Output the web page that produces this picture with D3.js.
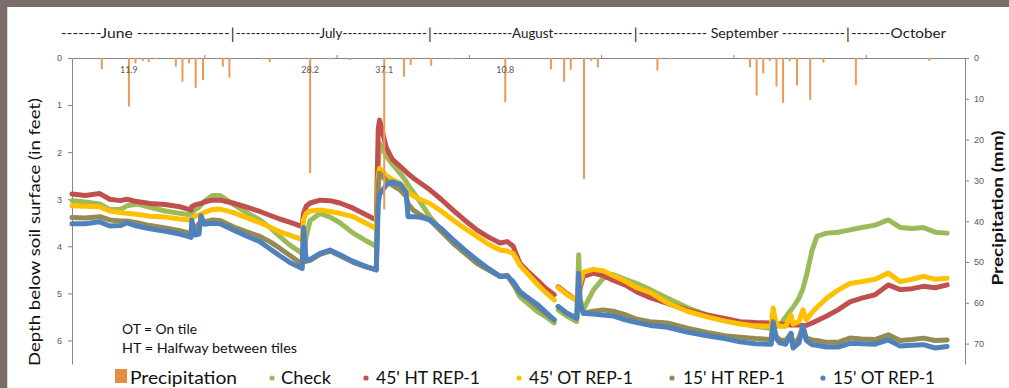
<!DOCTYPE html>
<html>
<head>
<meta charset="utf-8">
<script src="https://cdn.jsdelivr.net/npm/d3@7"></script>
<style>
  body { margin: 0; background: #fff; }
  svg { display: block; font-family: Lato, "Open Sans", sans-serif; }
</style>
</head>
<body>
<svg id="chart"></svg>
<script>
// Days since start of record (early June), one row per reading
const days = [0, 2, 4.2, 5.7, 7.3, 8.3, 9.8, 11.8, 14.1, 16.3, 17.8, 18, 18.1, 18.6, 19.2, 19.5, 20, 21.2, 22.4, 24.3,
  26.2, 28.4, 29.9, 31.4, 33, 34.8, 35, 35.4, 36, 37.5, 39, 40.5, 42.5, 44.3, 46, 46.3, 46.5, 47.5, 48.4, 49.6,
  50.5, 50.8, 51.6, 52.6, 54.1, 55.8, 57.6, 59.4, 61.2, 62.9, 64.7, 65.8, 66.7, 67.7, 68.8, 70.3, 71.5, 72.9, 73.1, 73.5,
  74.8, 76.3, 76.6, 76.8, 77.3, 78.8, 80.3, 81.8, 83.6, 85.4, 87.4, 90, 93, 96, 98.7, 101, 103.3, 105.7, 106, 106.4,
  107, 107.9, 108.7, 109, 109.9, 110.5, 111, 111.9, 112.6, 114.1, 115.8, 117.6, 119.4, 121.4, 123.4, 125.2, 127, 128.7, 130.5, 132.3];

// depth below soil surface (feet); null = no reading
const check = [3.03, 3.06, 3.10, 3.22, 3.22, 3.14, 3.10, 3.17, 3.25, 3.30, 3.33, 3.33, 3.30, 3.22, 3.17, 3.12, 3.05, 2.92, 2.92, 3.10,
  3.27, 3.44, 3.60, 3.79, 3.98, 4.15, 4.18, 3.80, 3.45, 3.30, 3.38, 3.50, 3.72, 3.87, 4.00, 2.30, 1.81, 2.08, 2.25, 2.45,
  2.62, 2.70, 2.85, 3.05, 3.37, 3.65, 3.93, 4.12, 4.29, 4.47, 4.64, 4.62, 4.80, 5.07, 5.20, 5.38, 5.48, 5.63, null, 5.35,
  5.48, 5.60, 4.18, 5.10, 5.35, 4.93, 4.68, 4.60, 4.70, 4.79, 4.92, 5.10, 5.30, 5.46, 5.56, 5.63, 5.70, 5.74, 5.70, 5.70,
  5.68, 5.50, 5.35, 5.30, 5.10, 4.90, 4.64, 4.08, 3.79, 3.72, 3.70, 3.65, 3.60, 3.55, 3.44, 3.60, 3.62, 3.60, 3.70, 3.72];

const ht45 = [2.89, 2.92, 2.88, 3.00, 3.03, 3.00, 3.05, 3.09, 3.11, 3.16, 3.22, 3.23, 3.16, 3.12, 3.10, 3.09, 3.06, 3.02, 3.02, 3.08,
  3.16, 3.26, 3.34, 3.42, 3.49, 3.58, 3.30, 3.15, 3.08, 3.02, 3.03, 3.08, 3.19, 3.32, 3.44, 1.50, 1.32, 1.90, 2.15, 2.30,
  2.42, 2.46, 2.55, 2.65, 2.80, 3.00, 3.23, 3.45, 3.65, 3.80, 3.93, 3.90, 4.00, 4.36, 4.52, 4.71, 4.88, 5.03, null, 4.86,
  5.00, 5.15, 5.10, 4.90, 4.64, 4.57, 4.62, 4.72, 4.82, 4.97, 5.09, 5.21, 5.35, 5.46, 5.53, 5.60, 5.62, 5.63, 5.63, 5.64,
  5.65, 5.66, 5.67, 5.67, 5.67, 5.68, 5.68, 5.63, 5.58, 5.48, 5.35, 5.18, 5.10, 5.03, 4.82, 4.92, 4.90, 4.85, 4.88, 4.82];

const ot45 = [3.14, 3.15, 3.16, 3.25, 3.28, 3.30, 3.32, 3.36, 3.38, 3.42, 3.44, 3.44, 3.40, 3.36, 3.33, 3.32, 3.28, 3.22, 3.21, 3.28,
  3.38, 3.50, 3.59, 3.69, 3.77, 3.86, 3.44, 3.30, 3.25, 3.23, 3.26, 3.30, 3.37, 3.50, 3.62, 2.50, 2.34, 2.50, 2.58, 2.66,
  2.78, 2.85, 2.93, 3.00, 3.09, 3.25, 3.44, 3.62, 3.79, 3.95, 4.08, 4.10, 4.15, 4.40, 4.57, 4.80, 4.97, 5.14, null, 4.88,
  5.02, 5.15, 5.10, 4.80, 4.55, 4.49, 4.52, 4.62, 4.74, 4.88, 4.98, 5.20, 5.38, 5.50, 5.59, 5.65, 5.69, 5.70, 5.31, 5.62,
  5.70, 5.70, 5.46, 5.65, 5.60, 5.35, 5.56, 5.40, 5.30, 5.10, 4.93, 4.79, 4.75, 4.70, 4.57, 4.75, 4.70, 4.64, 4.70, 4.68];

const ht15 = [3.39, 3.40, 3.37, 3.44, 3.46, 3.46, 3.50, 3.56, 3.61, 3.67, 3.72, 3.72, 3.68, 3.62, 3.52, 3.50, 3.48, 3.44, 3.45, 3.58,
  3.68, 3.79, 3.90, 4.04, 4.20, 4.38, 3.70, 4.32, 4.30, 4.17, 4.10, 4.20, 4.34, 4.43, 4.50, 2.70, 2.45, 2.60, 2.70, 2.80,
  2.94, 3.10, 3.23, 3.33, 3.44, 3.68, 3.93, 4.15, 4.36, 4.50, 4.64, 4.62, 4.80, 5.00, 5.10, 5.28, 5.42, 5.56, null, 5.28,
  5.42, 5.53, 5.05, 5.20, 5.42, 5.38, 5.35, 5.38, 5.45, 5.55, 5.60, 5.63, 5.74, 5.83, 5.90, 5.93, 5.96, 5.98, 5.60, 5.90,
  5.99, 6.00, 5.85, 6.10, 5.95, 5.70, 5.95, 5.99, 6.00, 6.04, 6.04, 5.95, 5.97, 5.98, 5.88, 6.00, 5.98, 5.95, 6.00, 5.99];

const ot15 = [3.52, 3.52, 3.48, 3.57, 3.56, 3.50, 3.57, 3.63, 3.68, 3.74, 3.80, 3.81, 3.44, 3.76, 3.74, 3.35, 3.53, 3.51, 3.52, 3.65,
  3.77, 3.90, 4.05, 4.20, 4.35, 4.47, 3.60, 4.30, 4.28, 4.15, 4.08, 4.18, 4.32, 4.42, 4.50, 3.10, 2.90, 2.70, 2.63, 2.68,
  2.85, 3.37, 3.37, 3.38, 3.44, 3.62, 3.86, 4.08, 4.29, 4.47, 4.64, 4.63, 4.75, 4.96, 5.08, 5.23, 5.38, 5.56, null, 5.28,
  5.42, 5.53, 4.57, 5.20, 5.42, 5.44, 5.46, 5.48, 5.56, 5.62, 5.68, 5.72, 5.82, 5.90, 5.96, 6.03, 6.07, 6.08, 5.63, 5.95,
  6.05, 6.08, 5.85, 6.16, 6.05, 5.70, 6.00, 6.09, 6.10, 6.14, 6.14, 6.06, 6.07, 6.08, 5.99, 6.12, 6.10, 6.09, 6.16, 6.13];

// daily precipitation (mm)
const precipDays = [4.5, 8.6, 9.6, 10.7, 11.6, 12.7, 15.7, 16.7, 17.7, 18.7, 19.8, 22.8, 23.8, 28.9, 29.9, 36, 39, 42,
  47.2, 50.2, 51.2, 54.3, 57.4, 65.5, 72.4, 74.4, 75.4, 77.4, 78.5, 79.5, 88.5, 90.5, 101.4, 102.5, 103.5, 104.5,
  105.5, 106.5, 107.5, 108.5, 109.6, 111.6, 113.6, 118.5, 119.5, 129.6];
const precipMm = [2.7, 11.9, 1.3, 0.7, 1.0, 0.3, 2.1, 5.8, 1.3, 7.3, 5.4, 2.1, 4.8, 0.3, 1.0, 28.2, 0.3, 0.5,
  37.1, 4.6, 1.7, 1.9, 0.3, 10.8, 2.8, 5.8, 2.9, 29.7, 0.7, 2.3, 3.1, 0.3, 0.2, 2.3, 9.2, 3.8,
  0.7, 7.0, 11.0, 0.8, 6.7, 10.3, 1.1, 6.6, 0.4, 0.7];
const precipLabels = [11.9, 28.2, 37.1, 10.8];

const depthTicks = [0, 1, 2, 3, 4, 5, 6];
const precipTicks = [0, 10, 20, 30, 40, 50, 60, 70];
const dayTicks = [20, 40, 60, 80, 100, 120];

const monthText = ["-------June ----------------", "-----------------July-----------------",
  "----------------August----------------", "------------- September ------------", "-------October"];
const monthBreaks = [24.3, 54.1, 85.2, 117.3];

const seriesNames = ["Check", "45' HT REP-1", "45' OT REP-1", "15' HT REP-1", "15' OT REP-1"];
const seriesValues = [check, ht45, ot45, ht15, ot15];
const seriesColors = ["#9BBB59", "#C0504D", "#FFC000", "#948A54", "#4F81BD"];
const precipColor = "#EC9955";

const width = 1009, height = 388;
const marginLeft = 72, marginRight = 44, plotTop = 58, plotBottom = 364;

const svg = d3.select("#chart").attr("width", width).attr("height", height);

// slide frame
svg.append("rect").attr("width", width).attr("height", 7).attr("fill", "#7B6C68");
svg.append("rect").attr("width", 7).attr("height", height).attr("fill", "#7B6C68");
svg.append("rect").attr("x", 7).attr("y", 7).attr("width", 1).attr("height", height).attr("fill", "#d9d4d3");

const x = d3.scaleLinear([0, 135], [marginLeft, width - marginRight]);
const yDepth = d3.scaleLinear([0, 6.5], [plotTop, plotBottom]);
const yPrecip = d3.scaleLinear([0, 75], [plotTop, plotBottom]);

const styleAxis = g => {
  g.select(".domain").attr("stroke", "#868686");
  g.selectAll(".tick line").attr("stroke", "#868686");
  g.selectAll(".tick text").attr("fill", "#595959").attr("font-size", 9);
};

svg.append("g")
  .attr("transform", `translate(${marginLeft},0)`)
  .call(d3.axisLeft(yDepth).tickValues(depthTicks).tickFormat(d3.format("d"))
    .tickSize(4).tickSizeOuter(0).tickPadding(6))
  .call(styleAxis);

svg.append("g")
  .attr("transform", `translate(${width - marginRight},0)`)
  .call(d3.axisRight(yPrecip).tickValues(precipTicks).tickFormat(d3.format("d"))
    .tickSize(4).tickSizeOuter(0).tickPadding(5))
  .call(styleAxis);

svg.append("g")
  .attr("transform", `translate(0,${plotTop})`)
  .call(d3.axisTop(x).tickValues(dayTicks).tickSize(3).tickSizeOuter(0).tickFormat(""))
  .call(styleAxis);

// water table lines
const rows = days.map((d, i) => i);
const line = d3.line()
  .defined(i => seriesValues[0][i] !== null)
  .x(i => x(days[i]));

seriesValues.forEach((vals, k) => {
  svg.append("path")
    .attr("fill", "none")
    .attr("stroke", seriesColors[k])
    .attr("stroke-width", 5)
    .attr("stroke-linejoin", "round")
    .attr("stroke-linecap", "round")
    .attr("d", line.y(i => yDepth(vals[i]))(rows));
});

// precipitation bars hanging from the top axis
svg.append("g")
  .selectAll("line")
  .data(precipDays)
  .join("line")
  .attr("x1", d => x(d)).attr("x2", d => x(d))
  .attr("y1", yPrecip(0))
  .attr("y2", (d, i) => yPrecip(precipMm[i]))
  .attr("stroke", precipColor)
  .attr("stroke-width", 2);

svg.append("g")
  .selectAll("text")
  .data(precipDays.filter((d, i) => precipLabels.includes(precipMm[i])))
  .join("text")
  .attr("x", d => x(d))
  .attr("y", yPrecip(3.7))
  .attr("text-anchor", "middle")
  .attr("font-size", 9)
  .attr("fill", "#595959")
  .text(d => precipMm[precipDays.indexOf(d)]);

// month header
const monthEdges = [-1.7, ...monthBreaks, 132.6];
monthText.forEach((t, i) => {
  const x0 = x(monthEdges[i]) + (i ? 3 : 0), x1 = x(monthEdges[i + 1]) - 3;
  svg.append("text")
    .attr("x", x0).attr("y", 38)
    .attr("font-size", 13).attr("fill", "#222")
    .attr("textLength", x1 - x0).attr("lengthAdjust", "spacingAndGlyphs")
    .text(t);
});
monthBreaks.forEach(b => {
  svg.append("text")
    .attr("x", x(b)).attr("y", 39)
    .attr("text-anchor", "middle")
    .attr("font-size", 15).attr("fill", "#222")
    .text("|");
});

// axis titles
svg.append("text")
  .attr("transform", "translate(40,232) rotate(-90)")
  .attr("text-anchor", "middle")
  .attr("font-size", 16).attr("fill", "#111")
  .attr("textLength", 268).attr("lengthAdjust", "spacingAndGlyphs")
  .text("Depth below soil surface  (in feet)");

svg.append("text")
  .attr("transform", "translate(1003,208) rotate(-90)")
  .attr("text-anchor", "middle")
  .attr("font-size", 16).attr("font-weight", "bold").attr("fill", "#111")
  .attr("textLength", 155).attr("lengthAdjust", "spacingAndGlyphs")
  .text("Precipitation (mm)");

// notes
svg.append("text").attr("x", 122).attr("y", 334).attr("font-size", 12.5).attr("fill", "#111")
  .attr("textLength", 75).attr("lengthAdjust", "spacingAndGlyphs").text("OT = On tile");
svg.append("text").attr("x", 122).attr("y", 353).attr("font-size", 12.5).attr("fill", "#111")
  .attr("textLength", 175).attr("lengthAdjust", "spacingAndGlyphs").text("HT = Halfway between tiles");

// legend
const legendY = 384;
const legend = svg.append("g");
legend.append("rect").attr("x", 115).attr("y", 369).attr("width", 12).attr("height", 14).attr("fill", "#E38D43");
legend.append("text").attr("x", 130).attr("y", legendY)
  .attr("font-size", 18).attr("fill", "#111")
  .attr("textLength", 107).attr("lengthAdjust", "spacingAndGlyphs").text("Precipitation");

const dotX = [272, 366, 519, 672, 823];
const textX = [281, 376, 529, 683, 833];
const textW = [50, 104, 104, 102, 102];
seriesNames.forEach((name, k) => {
  legend.append("circle")
    .attr("cx", dotX[k]).attr("cy", 378).attr("r", 2.6)
    .attr("fill", seriesColors[k]);
  legend.append("text").attr("x", textX[k]).attr("y", legendY)
    .attr("font-size", 18).attr("fill", "#111")
    .attr("textLength", textW[k]).attr("lengthAdjust", "spacingAndGlyphs").text(name);
});
</script>
</body>
</html>
